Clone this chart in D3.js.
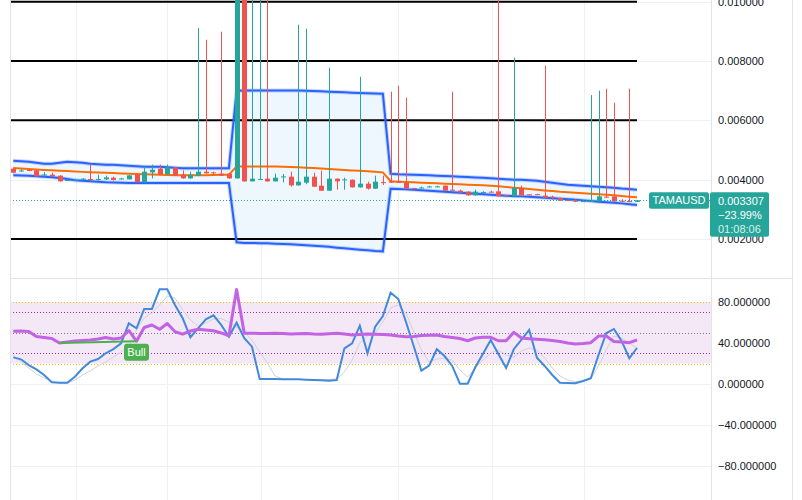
<!DOCTYPE html>
<html><head><meta charset="utf-8">
<script src="https://cdn.jsdelivr.net/npm/d3@7"></script>
<style>html,body{margin:0;padding:0;background:#fff;overflow:hidden}svg{display:block}</style>
</head><body>
<svg id="c" width="802" height="500"></svg>
<script>
// ---------- DATA ----------
const open = [
0.004371,0.004290,0.004327,0.004313,0.004152,0.004169,0.004135,0.003966,0.003973,0.004017,
0.004024,0.004000,0.004010,0.004067,0.004024,0.004010,0.004179,0.003909,0.004246,0.004371,
0.004179,0.004415,0.004169,0.004044,0.004135,0.004270,0.004246,0.004202,0.004202,0.004044,
0.011800,0.003943,0.004010,0.004034,0.003943,0.004078,0.004101,0.003808,0.003899,0.004101,
0.003798,0.003629,0.004034,0.003990,0.004000,0.003741,0.003865,0.003697,0.003916,0.003943,
0.003933,0.003899,0.003714,0.003720,0.003754,0.003754,0.003798,0.003663,0.003629,0.003596,
0.003471,0.003569,0.003596,0.003606,0.003471,0.003437,0.003720,0.003505,0.003512,0.003461,
0.003427,0.003383,0.003316,0.003292,0.003262,0.003262,0.003269,0.003427,0.003437,0.003292,
0.003279,0.003252];
const high = [
0.004404,0.004354,0.004371,0.004337,0.004253,0.004236,0.004152,0.004017,0.004034,0.004051,
0.004506,0.004169,0.004135,0.004101,0.004067,0.004152,0.004185,0.004472,0.004506,0.004506,
0.004506,0.004421,0.004313,0.004270,0.009112,0.008718,0.004270,0.008988,0.004219,0.011800,
0.012000,0.011500,0.011200,0.011200,0.004202,0.004192,0.004270,0.009224,0.009089,0.004236,
0.004303,0.007774,0.004040,0.004067,0.004007,0.007471,0.003933,0.004135,0.004135,0.006966,
0.007168,0.006763,0.003720,0.003764,0.003798,0.003798,0.003805,0.006966,0.003663,0.003602,
0.003663,0.003612,0.003629,0.011200,0.003478,0.008111,0.003798,0.003512,0.003528,0.007842,
0.003461,0.003393,0.003326,0.003343,0.003292,0.006854,0.006999,0.007067,0.006595,0.003343,
0.007067,0.003313];
const low = [
0.004219,0.004270,0.004286,0.004101,0.004101,0.004101,0.003933,0.003956,0.003956,0.004000,
0.003943,0.003966,0.003990,0.003973,0.004010,0.004010,0.003899,0.003899,0.004044,0.004169,
0.004169,0.004128,0.004034,0.004034,0.004118,0.004202,0.004192,0.004125,0.004034,0.004034,
0.003933,0.003940,0.004000,0.003933,0.003940,0.003909,0.003764,0.003798,0.003848,0.003754,
0.003619,0.003619,0.003663,0.003663,0.003730,0.003730,0.003663,0.003687,0.003821,0.003889,
0.003889,0.003687,0.003697,0.003697,0.003741,0.003747,0.003623,0.003623,0.003555,0.003461,
0.003461,0.003562,0.003572,0.003427,0.003444,0.003427,0.003461,0.003485,0.003485,0.003377,
0.003326,0.003286,0.003292,0.003242,0.003259,0.003259,0.003259,0.003393,0.003259,0.003242,
0.003259,0.003242];
const close = [
0.004236,0.004310,0.004303,0.004111,0.004175,0.004111,0.003943,0.003990,0.004000,0.004034,
0.004000,0.004024,0.004078,0.003990,0.004040,0.004145,0.003909,0.004270,0.004337,0.004179,
0.004415,0.004135,0.004044,0.004169,0.004270,0.004212,0.004226,0.004135,0.004044,0.011500,
0.003943,0.004034,0.004024,0.003943,0.004067,0.004111,0.003808,0.003933,0.004101,0.003764,
0.003629,0.004034,0.003943,0.004010,0.003741,0.003865,0.003697,0.003933,0.003902,0.003899,
0.003899,0.003697,0.003697,0.003737,0.003771,0.003774,0.003629,0.003629,0.003562,0.003471,
0.003596,0.003586,0.003579,0.003437,0.003451,0.003720,0.003471,0.003488,0.003495,0.003383,
0.003410,0.003292,0.003299,0.003276,0.003279,0.003279,0.003437,0.003404,0.003269,0.003276,
0.003262,0.003307];

const bbUpper = [
0.004640,0.004623,0.004607,0.004573,0.004539,0.004539,0.004573,0.004607,0.004590,0.004573,
0.004539,0.004522,0.004506,0.004506,0.004489,0.004472,0.004455,0.004438,0.004438,0.004438,
0.004421,0.004404,0.004388,0.004388,0.004388,0.004388,0.004388,0.004388,0.004388,0.006999,
0.007009,0.007009,0.007009,0.007009,0.007009,0.007009,0.007009,0.007006,0.006999,0.006989,
0.006979,0.006966,0.006955,0.006945,0.006932,0.006922,0.006912,0.006905,0.006898,0.004202,
0.004185,0.004175,0.004169,0.004158,0.004148,0.004135,0.004125,0.004115,0.004101,0.004088,
0.004074,0.004061,0.004047,0.004034,0.004017,0.004000,0.004000,0.003983,0.003960,0.003933,
0.003899,0.003865,0.003832,0.003815,0.003798,0.003781,0.003764,0.003747,0.003730,0.003703,
0.003683,0.003663];
const bbBasis = [
0.004394,0.004377,0.004361,0.004344,0.004330,0.004317,0.004303,0.004290,0.004276,0.004263,
0.004253,0.004243,0.004233,0.004222,0.004212,0.004202,0.004192,0.004182,0.004172,0.004162,
0.004155,0.004148,0.004145,0.004145,0.004148,0.004152,0.004158,0.004162,0.004169,0.004448,
0.004448,0.004448,0.004448,0.004445,0.004441,0.004438,0.004428,0.004418,0.004404,0.004391,
0.004374,0.004357,0.004340,0.004324,0.004310,0.004297,0.004283,0.004270,0.004246,0.003949,
0.003933,0.003922,0.003912,0.003899,0.003889,0.003879,0.003865,0.003855,0.003845,0.003832,
0.003821,0.003811,0.003798,0.003781,0.003754,0.003730,0.003707,0.003687,0.003663,0.003639,
0.003619,0.003596,0.003579,0.003562,0.003545,0.003528,0.003511,0.003495,0.003471,0.003451,
0.003427,0.003404];
const bbLower = [
0.004145,0.004142,0.004135,0.004118,0.004101,0.004081,0.004057,0.004024,0.003983,0.003966,
0.003949,0.003933,0.003916,0.003906,0.003899,0.003892,0.003889,0.003889,0.003889,0.003889,
0.003889,0.003889,0.003889,0.003889,0.003889,0.003889,0.003889,0.003889,0.003889,0.001887,
0.001867,0.001867,0.001860,0.001853,0.001843,0.001833,0.001820,0.001809,0.001793,0.001776,
0.001759,0.001735,0.001708,0.001685,0.001665,0.001641,0.001617,0.001597,0.001584,0.003697,
0.003687,0.003673,0.003663,0.003646,0.003629,0.003612,0.003596,0.003579,0.003562,0.003545,
0.003528,0.003511,0.003495,0.003478,0.003461,0.003444,0.003437,0.003427,0.003410,0.003393,
0.003377,0.003360,0.003343,0.003326,0.003302,0.003282,0.003259,0.003242,0.003225,0.003201,
0.003174,0.003147];

const levelLines = [0.010, 0.008, 0.006, 0.002];
const priceTicks = [0.010, 0.008, 0.006, 0.004, 0.002];

const stochK = [
26.0,24.1,18.5,14.3,8.8,1.7,1.3,1.3,7.1,15.3,
21.8,24.4,30.0,34.1,39.7,59.2,54.3,73.2,73.2,92.4,
92.4,77.1,64.1,45.6,54.3,63.1,67.0,57.6,46.1,59.8,
44.6,36.4,4.9,4.9,4.9,4.6,4.6,4.6,4.2,3.9,
3.6,3.2,3.9,34.8,39.7,56.9,30.0,55.9,66.3,89.1,
82.9,60.5,37.1,13.0,17.9,33.9,27.3,17.6,0.3,0.3,
16.3,29.6,42.9,29.3,15.6,33.9,43.4,52.7,25.7,17.6,
8.8,1.3,1.0,0.7,2.9,5.6,28.3,49.5,53.7,42.0,
25.1,35.1];
const stochD = [
28.3,21.5,15.6,9.8,5.9,2.9,1.0,0.7,3.9,8.8,
12.7,17.6,21.5,26.3,31.2,37.1,52.7,64.4,69.3,77.1,
85.9,83.9,72.2,62.4,56.6,59.5,63.4,63.9,60.5,55.6,
50.7,42.9,31.2,20.5,7.8,4.9,4.4,4.4,4.4,4.4,
4.4,4.4,4.9,11.7,23.4,40.0,46.8,49.8,60.5,74.1,
77.1,69.3,50.7,33.2,21.5,24.4,25.4,23.4,13.7,6.8,
15.6,23.4,30.2,33.2,28.3,26.3,32.2,35.1,33.2,25.4,
15.6,7.8,3.9,2.2,2.9,4.9,17.6,33.2,46.8,44.9,
40.0,35.1];
const rsi = [
51.4,51.7,51.2,46.3,45.4,44.4,40.0,41.0,42.0,42.4,
42.9,43.9,45.4,43.9,44.9,52.2,41.8,55.1,57.6,53.4,
59.0,51.0,48.6,51.7,53.4,52.7,52.0,49.8,47.1,92.2,
49.5,49.5,49.3,49.3,49.5,49.3,48.8,49.1,49.3,48.8,
48.5,49.1,49.5,48.8,47.8,48.3,48.8,48.5,48.3,47.8,
46.8,46.1,46.3,47.3,47.5,47.8,46.3,45.4,44.4,42.2,
44.9,45.6,45.6,42.2,42.2,50.4,44.9,44.2,43.6,43.1,
42.4,41.5,40.0,39.0,39.5,40.3,46.8,46.8,41.5,41.0,
40.3,42.9];
const oscTicks = [80, 40, 0, -40, -80];
const oscBand = [80, 20];            // filled zone
const oscOuter = [80, 20];           // yellow dotted
const oscInner = [70, 30];           // purple dotted
const oscMid = [50];                 // gray dotted
const vGridIdx = [8.1, 20, 32.2, 50, 62.2, 74.1];
const bullFrom = 6, bullTo = 16, bullText = "Bull";
const symbol = "TAMAUSD", lastPriceText = "0.003307", changeText = "\u221223.99%", countdownText = "01:08:06";

// ---------- LAYOUT ----------
const W = 802, H = 500;
const plotL = 10, plotR = 711, axisR = 792;
const mainTop = 0, mainBot = 278, oscTop = 279, oscBot = 500;
const UP = "#26a69a", DOWN = "#ef5350";
const FONT = "'Liberation Sans', Arial, sans-serif";

const svg = d3.select("#c");
const n = close.length;
const x = d3.scaleLinear().domain([0, n - 1]).range([13.3, 637]);
const yP = d3.scaleLinear().domain([0.002, 0.010]).range([239, 1.7]);
const yO = d3.scaleLinear().domain([-80, 80]).range([466, 302]);
const idx = d3.range(n);

const defs = svg.append("defs");
defs.append("clipPath").attr("id", "mainClip").append("rect")
  .attr("x", plotL).attr("y", mainTop).attr("width", plotR - plotL).attr("height", mainBot - mainTop);
defs.append("clipPath").attr("id", "oscClip").append("rect")
  .attr("x", plotL).attr("y", oscTop).attr("width", plotR - plotL).attr("height", oscBot - oscTop);

svg.append("rect").attr("width", W).attr("height", H).attr("fill", "#fff");

// vertical grid
svg.append("g").selectAll("line").data(vGridIdx).join("line")
  .attr("x1", d => Math.round(x(d)) + 0.5).attr("x2", d => Math.round(x(d)) + 0.5)
  .attr("y1", 0).attr("y2", H).attr("stroke", "#eef0f4").attr("stroke-width", 1);

// horizontal grids
svg.append("g").selectAll("line").data(priceTicks).join("line")
  .attr("x1", plotL).attr("x2", plotR)
  .attr("y1", d => Math.round(yP(d)) + 0.5).attr("y2", d => Math.round(yP(d)) + 0.5)
  .attr("stroke", "#eef0f4");
svg.append("g").selectAll("line").data(oscTicks).join("line")
  .attr("x1", plotL).attr("x2", plotR)
  .attr("y1", d => Math.round(yO(d)) + 0.5).attr("y2", d => Math.round(yO(d)) + 0.5)
  .attr("stroke", "#eef0f4");

// ---------- MAIN PANE ----------
const main = svg.append("g").attr("clip-path", "url(#mainClip)");

main.append("path").datum(idx)
  .attr("d", d3.area().x(i => x(i)).y0(i => yP(bbLower[i])).y1(i => yP(bbUpper[i])))
  .attr("fill", "#eef6fe").attr("stroke", "none");

main.append("g").selectAll("line").data(levelLines).join("line")
  .attr("x1", plotL).attr("x2", x(n - 1))
  .attr("y1", d => yP(d)).attr("y2", d => yP(d))
  .attr("stroke", "#000").attr("stroke-width", 2);

const lineGen = arr => d3.line().x(i => x(i)).y(i => yP(arr[i]));
[bbUpper, bbLower].forEach(arr => {
  main.append("path").datum(idx).attr("d", lineGen(arr))
    .attr("fill", "none").attr("stroke", "#2962ff").attr("stroke-opacity", 0.25).attr("stroke-width", 4);
  main.append("path").datum(idx).attr("d", lineGen(arr))
    .attr("fill", "none").attr("stroke", "#2962ff").attr("stroke-width", 2);
});
main.append("path").datum(idx).attr("d", lineGen(bbBasis))
  .attr("fill", "none").attr("stroke", "#ff6d00").attr("stroke-width", 2);

// current price dotted line
svg.append("line").attr("x1", plotL).attr("x2", plotR)
  .attr("y1", Math.round(yP(close[n - 1])) + 0.5).attr("y2", Math.round(yP(close[n - 1])) + 0.5)
  .attr("stroke", UP).attr("stroke-width", 1).attr("stroke-dasharray", "1,2");

// candles
const cg = main.append("g");
idx.forEach(i => {
  const col = close[i] >= open[i] ? UP : DOWN;
  const cx = Math.round(x(i));
  cg.append("line").attr("x1", cx + 0.5).attr("x2", cx + 0.5)
    .attr("y1", yP(high[i])).attr("y2", yP(low[i])).attr("stroke", col).attr("stroke-width", 1);
  const y1 = yP(Math.max(open[i], close[i])), y2 = yP(Math.min(open[i], close[i]));
  cg.append("rect").attr("x", cx - 2).attr("width", 5)
    .attr("y", y1).attr("height", Math.max(1, y2 - y1)).attr("fill", col);
});

// ---------- OSC PANE ----------
const osc = svg.append("g").attr("clip-path", "url(#oscClip)");
osc.append("rect").attr("x", plotL).attr("width", plotR - plotL)
  .attr("y", yO(oscBand[0])).attr("height", yO(oscBand[1]) - yO(oscBand[0]))
  .attr("fill", "#f4e8f6");
const dotted = (vals, col) => osc.append("g").selectAll("line").data(vals).join("line")
  .attr("x1", plotL).attr("x2", plotR)
  .attr("y1", d => Math.round(yO(d)) + 0.5).attr("y2", d => Math.round(yO(d)) + 0.5)
  .attr("stroke", col).attr("stroke-width", 1).attr("stroke-dasharray", "1,2");
dotted(oscOuter, "#f0c20a");
dotted(oscInner, "#9c27b0");
dotted(oscMid, "#787b86");

const oLine = arr => d3.line().x(i => x(i)).y(i => yO(arr[i]));
osc.append("path").datum(idx).attr("d", oLine(stochD))
  .attr("fill", "none").attr("stroke", "#cfd2da").attr("stroke-width", 1);
osc.append("path").datum(idx).attr("d", oLine(stochK))
  .attr("fill", "none").attr("stroke", "#4189dd").attr("stroke-width", 2);
osc.append("path").datum(idx).attr("d", oLine(rsi))
  .attr("fill", "none").attr("stroke", "#c262e4").attr("stroke-width", 3).attr("stroke-linejoin", "round");

// bull divergence
osc.append("line").attr("x1", x(bullFrom)).attr("y1", yO(rsi[bullFrom]))
  .attr("x2", x(bullTo)).attr("y2", yO(rsi[bullTo]))
  .attr("stroke", "#4caf50").attr("stroke-width", 2);
const bl = svg.append("g").attr("transform", `translate(${x(bullTo)},${yO(rsi[bullTo]) + 2.5})`);
bl.append("rect").attr("x", -12.5).attr("y", 0).attr("width", 25).attr("height", 17).attr("rx", 3).attr("fill", "#4caf50");
bl.append("text").attr("x", 0).attr("y", 12.5).attr("text-anchor", "middle")
  .attr("font-family", FONT).attr("font-size", 11).attr("fill", "#fff").text(bullText);

// ---------- FRAME ----------
svg.append("line").attr("x1", plotL + 0.5).attr("x2", plotL + 0.5).attr("y1", 0).attr("y2", H).attr("stroke", "#e0e3eb");
svg.append("line").attr("x1", plotR + 0.5).attr("x2", plotR + 0.5).attr("y1", 0).attr("y2", H).attr("stroke", "#e0e3eb");
svg.append("line").attr("x1", axisR + 0.5).attr("x2", axisR + 0.5).attr("y1", 0).attr("y2", H).attr("stroke", "#e0e3eb");
svg.append("line").attr("x1", plotL).attr("x2", axisR).attr("y1", mainBot + 0.5).attr("y2", mainBot + 0.5).attr("stroke", "#e0e3eb");

// ---------- AXES ----------
const styleAxis = g => {
  g.select(".domain").remove();
  g.selectAll("text").attr("font-family", FONT).attr("font-size", 11).attr("fill", "#131722");
};
svg.append("g").attr("transform", `translate(${plotR},0)`)
  .call(d3.axisRight(yP).tickValues(priceTicks).tickFormat(d3.format(".6f")).tickSize(0).tickPadding(7))
  .call(styleAxis);
svg.append("g").attr("transform", `translate(${plotR},0)`)
  .call(d3.axisRight(yO).tickValues(oscTicks).tickFormat(d3.format(".6f")).tickSize(0).tickPadding(7))
  .call(styleAxis);

// ---------- LABELS ----------
const py = yP(close[n - 1]);
const sym = svg.append("g");
sym.append("rect").attr("x", 649).attr("y", py - 8).attr("width", 60).attr("height", 16.5).attr("rx", 2).attr("fill", UP);
sym.append("text").attr("x", 679).attr("y", py + 4).attr("text-anchor", "middle")
  .attr("font-family", FONT).attr("font-size", 11).attr("fill", "#fff").text(symbol);

const pl = svg.append("g");
pl.append("rect").attr("x", 710).attr("y", py - 8).attr("width", 59).attr("height", 44.5).attr("rx", 2).attr("fill", UP);
pl.append("text").attr("x", 718).attr("y", py + 4.5).attr("font-family", FONT).attr("font-size", 11).attr("fill", "#fff").text(lastPriceText);
pl.append("text").attr("x", 718).attr("y", py + 18.5).attr("font-family", FONT).attr("font-size", 11).attr("fill", "#fff").text(changeText);
pl.append("text").attr("x", 718).attr("y", py + 32.5).attr("font-family", FONT).attr("font-size", 11).attr("fill", "#fff").attr("fill-opacity", 0.85).text(countdownText);
</script>
</body></html>
